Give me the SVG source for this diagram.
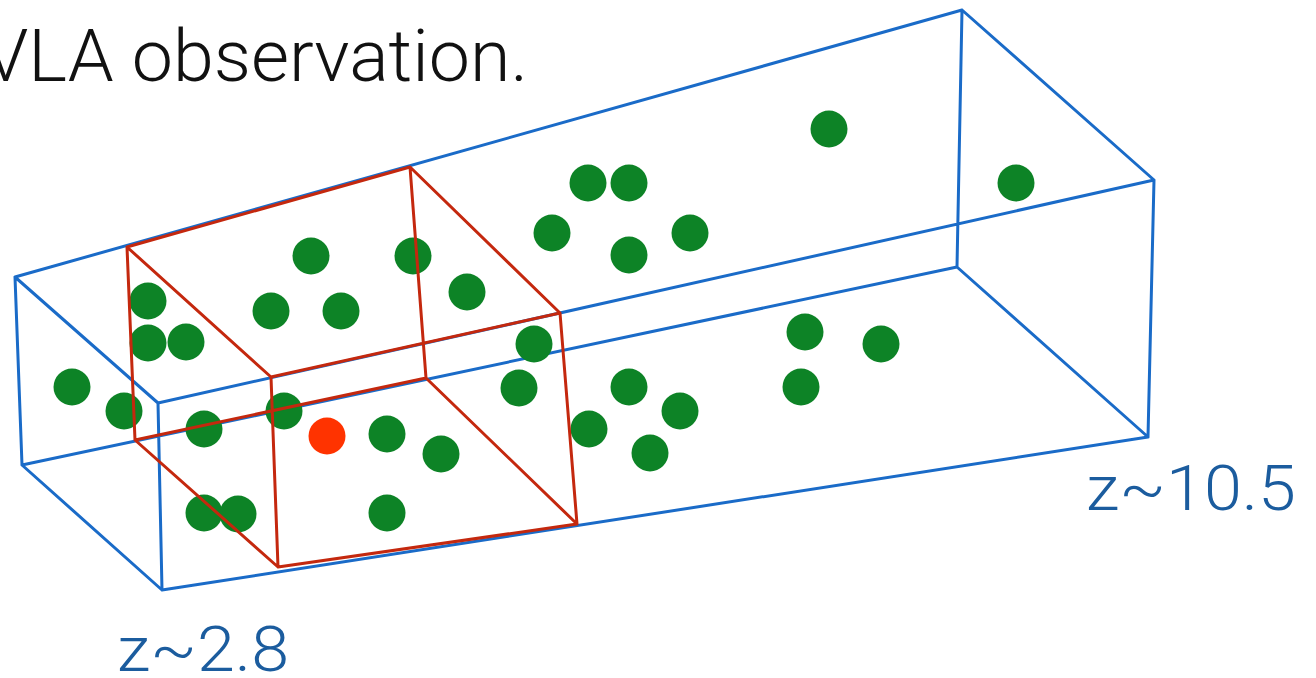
<svg xmlns="http://www.w3.org/2000/svg" width="1316" height="678" viewBox="0 0 1316 678">
<style>
.blue{fill:none;stroke:#1a6bc8;stroke-width:3;stroke-linejoin:round;stroke-linecap:round}
.red{fill:none;stroke:#c4280e;stroke-width:3;stroke-linejoin:round;stroke-linecap:round}
.g{fill:#0d8326}
.rd{fill:#ff3300}
.title{font-family:Roboto,"Liberation Sans",sans-serif;font-weight:300;font-size:72px;fill:#111}
.z{font-family:Roboto,"Liberation Sans",sans-serif;font-weight:300;font-size:63px;fill:#1b5c9e}
</style>
<rect width="1316" height="678" fill="#fff"/>
<text class="title" x="-17" y="81" textLength="545" lengthAdjust="spacingAndGlyphs">VLA observation.</text>
<g id="blue-box">
<path class="blue" d="M15,277 L962,10 M15,277 L22,465 M15,277 L158,403 M158,403 L162,590 M22,465 L162,590 M22,465 L957,267 M158,403 L1154,180 M162,590 L1148,437 M962,10 L957,267 M962,10 L1154,180 M1154,180 L1148,437 M957,267 L1148,437"/>
</g>
<g id="galaxies">
<circle class="g" cx="829" cy="129" r="18.5"/>
<circle class="g" cx="1016" cy="183" r="18.5"/>
<circle class="g" cx="588" cy="183" r="18.5"/>
<circle class="g" cx="629" cy="183" r="18.5"/>
<circle class="g" cx="552" cy="233" r="18.5"/>
<circle class="g" cx="690" cy="233" r="18.5"/>
<circle class="g" cx="629" cy="255" r="18.5"/>
<circle class="g" cx="311" cy="256" r="18.5"/>
<circle class="g" cx="413" cy="256" r="18.5"/>
<circle class="g" cx="467" cy="292" r="18.5"/>
<circle class="g" cx="148" cy="301" r="18.5"/>
<circle class="g" cx="271" cy="311" r="18.5"/>
<circle class="g" cx="341" cy="311" r="18.5"/>
<circle class="g" cx="148" cy="343" r="18.5"/>
<circle class="g" cx="186" cy="342" r="18.5"/>
<circle class="g" cx="534" cy="344" r="18.5"/>
<circle class="g" cx="805" cy="332" r="18.5"/>
<circle class="g" cx="881" cy="344" r="18.5"/>
<circle class="g" cx="72" cy="387" r="18.5"/>
<circle class="g" cx="124" cy="411" r="18.5"/>
<circle class="g" cx="519" cy="388" r="18.5"/>
<circle class="g" cx="629" cy="387" r="18.5"/>
<circle class="g" cx="801" cy="387" r="18.5"/>
<circle class="g" cx="284" cy="411" r="18.5"/>
<circle class="g" cx="680" cy="411" r="18.5"/>
<circle class="g" cx="204" cy="429" r="18.5"/>
<circle class="g" cx="589" cy="429" r="18.5"/>
<circle class="g" cx="387" cy="434" r="18.5"/>
<circle class="g" cx="441" cy="454" r="18.5"/>
<circle class="g" cx="650" cy="453" r="18.5"/>
<circle class="g" cx="204" cy="513" r="18.5"/>
<circle class="g" cx="238" cy="514" r="18.5"/>
<circle class="g" cx="387" cy="513" r="18.5"/>
<circle class="rd" cx="327" cy="436" r="18.5"/>
</g>
<g id="red-box">
<path class="red" d="M127,247 L135,440 M127,247 L271,377 M271,377 L278,567 M135,440 L278,567 M127,247 L410,167 M410,167 L560,313 M410,167 L426,378 M560,313 L577,524 M426,378 L577,524 M271,377 L560,313 M278,567 L577,524 M135,440 L426,378"/>
</g>
<text class="z" x="117" y="671" textLength="172" lengthAdjust="spacingAndGlyphs">z~2.8</text>
<text class="z" x="1086" y="510" textLength="210" lengthAdjust="spacingAndGlyphs">z~10.5</text>
</svg>
